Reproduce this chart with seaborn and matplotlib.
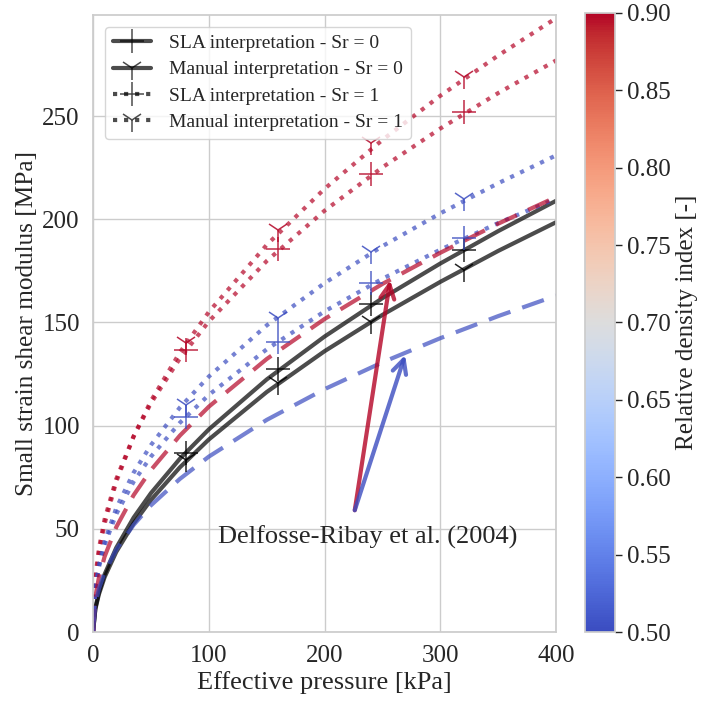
import numpy as np
import pandas as pd
import matplotlib.pyplot as plt
import matplotlib as mpl
from matplotlib.lines import Line2D
import seaborn as sns

# Curves (effective pressure in kPa, G0 in MPa)
pressure = [0, 2, 5, 10, 20, 35, 50, 75, 100, 150, 200, 250, 300, 350, 400]
sla_sr0 = [0, 11.6, 19.2, 28.0, 40.8, 55.4, 67.3, 84.0, 98.2, 122.4, 143.2, 161.8, 178.6, 194.3, 209.0]
manual_sr0 = [0, 11.1, 18.2, 26.6, 38.8, 52.6, 64.0, 79.8, 93.3, 116.3, 136.1, 153.7, 169.7, 184.7, 198.6]
manual_sr1_dense = [0, 24.7, 37.9, 52.5, 72.8, 94.7, 112.0, 135.5, 155.1, 187.6, 214.8, 238.5, 259.9, 279.4, 297.5]
sla_sr1_dense = [0, 26.9, 40.3, 54.7, 74.1, 94.8, 110.9, 132.6, 150.5, 179.8, 204.2, 225.2, 244.0, 261.2, 277.0]
manual_sr1_loose = [0, 21.3, 32.2, 43.9, 60.0, 77.2, 90.6, 108.8, 123.8, 148.6, 169.1, 187.0, 202.9, 217.5, 231.0]
sla_sr1_loose = [0, 21.0, 31.2, 42.2, 57.1, 72.8, 85.0, 101.4, 114.9, 137.0, 155.4, 171.2, 185.3, 198.2, 210.0]
delfosse_dense = [0, 17.0, 26.3, 36.6, 50.8, 66.3, 78.5, 95.2, 109.2, 132.3, 151.7, 168.7, 183.8, 197.9, 210.8]
delfosse_loose = [0, 13.5, 20.8, 28.8, 39.9, 51.9, 61.4, 74.2, 85.0, 102.8, 117.7, 130.7, 142.4, 153.1, 163.0]

# Measured points
p_tests = [80, 160, 240, 320]
sla_sr0_pts = [86.6, 127.3, 158.9, 185.0]
manual_sr0_pts = [83.3, 120.5, 150.3, 175.4]
sla_sr1_dense_pts = [136.6, 185.6, 222.0, 252.0]
manual_sr1_dense_pts = [140.0, 194.8, 237.0, 269.0]
sla_sr1_loose_pts = [104.3, 140.6, 169.0, 191.0]
manual_sr1_loose_pts = [110.0, 152.0, 184.0, 210.0]

dr_dense = 0.9
dr_loose = 0.5
dr_min, dr_max = 0.5, 0.9

sns.set_theme(style='whitegrid')
plt.rcParams['font.family'] = ['Liberation Serif', 'DejaVu Serif']

cmap = plt.get_cmap('coolwarm')
norm = mpl.colors.Normalize(vmin=dr_min, vmax=dr_max)
c_dense = cmap(norm(dr_dense))
c_loose = cmap(norm(dr_loose))

fig = plt.figure(figsize=(7.05, 7.02), dpi=100)
ax = fig.add_axes([0.132, 0.0997, 0.657, 0.879])
cax = fig.add_axes([0.830, 0.0997, 0.0426, 0.882])

lw = 3
a = 0.7
curves = [
    (sla_sr0, 'black', '-'),
    (manual_sr0, 'black', '-'),
    (manual_sr1_dense, c_dense, ':'),
    (sla_sr1_dense, c_dense, ':'),
    (manual_sr1_loose, c_loose, ':'),
    (sla_sr1_loose, c_loose, ':'),
    (delfosse_dense, c_dense, (0, (5.5, 3))),
    (delfosse_loose, c_loose, (0, (5.5, 3))),
]
for vals, col, ls in curves:
    sns.lineplot(x=pressure, y=vals, color=col, linestyle=ls, linewidth=lw,
                 alpha=a, ax=ax)

points = [
    (sla_sr0_pts, 'black', '+'),
    (manual_sr0_pts, 'black', '1'),
    (sla_sr1_dense_pts, c_dense, '+'),
    (manual_sr1_dense_pts, c_dense, '1'),
    (sla_sr1_loose_pts, c_loose, '+'),
    (manual_sr1_loose_pts, c_loose, '1'),
]
for vals, col, mk in points:
    ax.plot(p_tests, vals, linestyle='none', marker=mk, markersize=17,
            markeredgewidth=1.1, color=col, alpha=0.85)

# Annotation for Delfosse-Ribay curves
ax.text(108, 46, 'Delfosse-Ribay et al. (2004)', fontsize=19, va='center', ha='left')
ax.annotate('', xy=(256.6, 170.5), xytext=(226, 59),
            arrowprops=dict(arrowstyle='->', color=c_dense, lw=3, alpha=0.8,
                            mutation_scale=25, shrinkA=0, shrinkB=0))
ax.annotate('', xy=(269.5, 134.2), xytext=(226, 59),
            arrowprops=dict(arrowstyle='->', color=c_loose, lw=3, alpha=0.8,
                            mutation_scale=25, shrinkA=0, shrinkB=0))

ax.set_xlim(0, 400)
ax.set_ylim(0, 299)
ax.set_xticks([0, 100, 200, 300, 400])
ax.set_yticks([0, 50, 100, 150, 200, 250])
ax.tick_params(labelsize=18)
ax.set_xlabel('Effective pressure [kPa]', fontsize=19, labelpad=3)
ax.set_ylabel('Small strain shear modulus [MPa]', fontsize=18.2, labelpad=3)

gray = (0, 0, 0, a)
handles = [
    Line2D([], [], color=gray, lw=lw, ls='-', marker='+', markersize=17, markeredgewidth=1.1),
    Line2D([], [], color=gray, lw=lw, ls='-', marker='1', markersize=17, markeredgewidth=1.1),
    Line2D([], [], color=gray, lw=lw, ls=':', marker='+', markersize=17, markeredgewidth=1.1),
    Line2D([], [], color=gray, lw=lw, ls=':', marker='1', markersize=17, markeredgewidth=1.1),
]
labels = ['SLA interpretation - Sr = 0', 'Manual interpretation - Sr = 0',
          'SLA interpretation - Sr = 1', 'Manual interpretation - Sr = 1']
ax.legend(handles, labels, loc='upper left', fontsize=14, handlelength=2,
          handletextpad=0.9, borderaxespad=0.6, labelspacing=0.45)

sm = mpl.cm.ScalarMappable(norm=norm, cmap=cmap)
cb = fig.colorbar(sm, cax=cax)
cb.set_ticks(np.arange(0.5, 0.901, 0.05))
cb.ax.yaxis.set_major_formatter(mpl.ticker.FormatStrFormatter('%.2f'))
cb.ax.tick_params(labelsize=18, length=5, width=1, right=True, color='0.15')
cb.set_label('Relative density index [-]', fontsize=18)
cb.outline.set_edgecolor('0.8')

fig.savefig('out.png', dpi=100)
